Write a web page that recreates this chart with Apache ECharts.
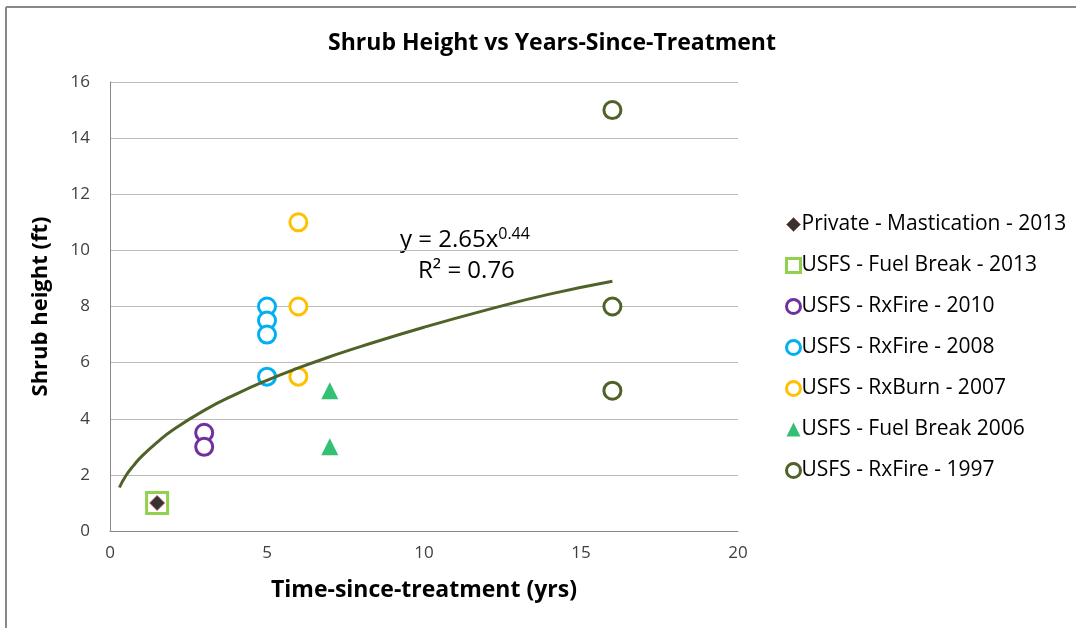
<!DOCTYPE html>
<html><head><meta charset="utf-8">
<script src="https://cdn.jsdelivr.net/npm/echarts@6/dist/echarts.min.js"></script>
<style>html,body{margin:0;padding:0;background:#fff}#c{width:1076px;height:628px}</style>
</head><body><div id="c"></div>
<script>
const seriesNames = ['Private - Mastication - 2013','USFS - Fuel Break - 2013','USFS - RxFire - 2010','USFS - RxFire - 2008','USFS - RxBurn - 2007','USFS - Fuel Break 2006','USFS - RxFire - 1997'];
const privateMast2013 = [[1.5, 1]];
const fuelBreak2013 = [[1.5, 1]];
const rxFire2010 = [[3, 3.5], [3, 3]];
const rxFire2008 = [[5, 8], [5, 7.5], [5, 7], [5, 5.5]];
const rxBurn2007 = [[6, 11], [6, 8], [6, 5.5]];
const fuelBreak2006 = [[7, 5], [7, 3]];
const rxFire1997 = [[16, 15], [16, 8], [16, 5]];
// trendline (power fit y = 2.65x^0.44)
const trendX = [0.3, 0.5, 0.75, 1, 1.5, 2, 3, 4, 5, 6, 7, 8, 10, 12, 14, 16];
const trendY = [1.55, 1.96, 2.33, 2.65, 3.16, 3.6, 4.3, 4.87, 5.37, 5.81, 6.21, 6.58, 7.26, 7.88, 8.44, 8.9];
const xTicks = [0, 5, 10, 15, 20];
const yTicks = [0, 2, 4, 6, 8, 10, 12, 14, 16];
const colors = ['#000', '#92D050', '#7030A0', '#00B0F0', '#FFC000', '#00B050', '#4F6228'];

const chart = echarts.init(document.getElementById('c'));
const font = "'Open Sans', 'Liberation Sans', sans-serif";
const hollow = (name, data, symbol, color, size) => ({
  name, type: 'scatter', data, symbol, symbolSize: size,
  itemStyle: { color: '#fff', borderColor: color, borderWidth: 3, opacity: 1 },
  z: 3
});
const legendData = seriesNames.map((n, i) => {
  if (i === 0) return { name: n, icon: 'diamond', itemStyle: { color: '#000', borderColor: '#C0504D', borderWidth: 1 } };
  if (i === 1) return { name: n, icon: 'rect', itemStyle: { color: '#fff', borderColor: colors[i], borderWidth: 3 } };
  if (i === 5) return { name: n, icon: 'triangle', itemStyle: { color: colors[i], borderWidth: 0 } };
  return { name: n, icon: 'circle', itemStyle: { color: '#fff', borderColor: colors[i], borderWidth: 3 } };
});
chart.setOption({
  animation: false,
  backgroundColor: '#fff',
  title: {
    text: 'Shrub Height vs Years-Since-Treatment',
    left: 547, top: 27, textAlign: 'center',
    textStyle: { fontFamily: font, fontSize: 23, fontWeight: 'bold', color: '#000' }
  },
  grid: { left: 110, right: 338, top: 82, bottom: 97, containLabel: false },
  xAxis: {
    type: 'value', min: 0, max: 20, interval: 5,
    name: 'Time-since-treatment (yrs)', nameLocation: 'middle', nameGap: 48,
    nameTextStyle: { fontFamily: font, fontSize: 23, fontWeight: 'bold', color: '#000' },
    axisLine: { show: true, onZero: false, lineStyle: { color: '#888', width: 1 } },
    axisTick: { show: false },
    splitLine: { show: false },
    axisLabel: { fontFamily: font, fontSize: 17, color: '#404040', margin: 14,
      formatter: v => xTicks.includes(v) ? String(v) : '' }
  },
  yAxis: {
    type: 'value', min: 0, max: 16, interval: 2,
    name: 'Shrub height (ft)', nameLocation: 'middle', nameGap: 58,
    nameTextStyle: { fontFamily: font, fontSize: 22, fontWeight: 'bold', color: '#000' },
    axisLine: { show: true, lineStyle: { color: '#888', width: 1 } },
    axisTick: { show: false },
    splitLine: { show: true, lineStyle: { color: '#bbb', width: 1 } },
    axisLabel: { fontFamily: font, fontSize: 17, color: '#404040', margin: 20,
      formatter: v => yTicks.includes(v) ? String(v) : '' }
  },
  legend: {
    data: legendData,
    orient: 'vertical', left: 780, top: 205,
    itemWidth: 14, itemHeight: 14, itemGap: 12, selectedMode: false,
    textStyle: { fontFamily: font, fontSize: 21, color: '#000', lineHeight: 29, padding: [0, 0, 0, -4] }
  },
  series: [
    { name: seriesNames[0], type: 'scatter', data: privateMast2013, symbol: 'diamond', symbolSize: 15,
      itemStyle: { color: '#000', borderColor: '#C0504D', borderWidth: 1 }, z: 5 },
    { name: seriesNames[1], type: 'scatter', data: fuelBreak2013, symbol: 'rect', symbolSize: 21,
      itemStyle: { color: '#fff', borderColor: '#92D050', borderWidth: 3, opacity: 1 }, z: 4 },
    hollow(seriesNames[2], rxFire2010, 'circle', colors[2], 17),
    hollow(seriesNames[3], rxFire2008, 'circle', colors[3], 17),
    hollow(seriesNames[4], rxBurn2007, 'circle', colors[4], 17),
    { name: seriesNames[5], type: 'scatter', data: fuelBreak2006, symbol: 'triangle', symbolSize: 17,
      itemStyle: { color: colors[5] }, z: 3 },
    hollow(seriesNames[6], rxFire1997, 'circle', colors[6], 17),
    { name: 'Power fit', type: 'line', data: trendX.map((x, i) => [x, trendY[i]]),
      smooth: true, showSymbol: false, symbol: 'none',
      lineStyle: { color: '#4F6228', width: 3 }, z: 6 }
  ],
  graphic: [
    { type: 'line', shape: { x1: 6, y1: 7, x2: 1076, y2: 7 }, style: { stroke: '#888', lineWidth: 2 } },
    { type: 'line', shape: { x1: 6, y1: 7, x2: 6, y2: 628 }, style: { stroke: '#888', lineWidth: 2 } },
    { type: 'text', left: 400, top: 226,
      style: { rich: { a: { fontFamily: font, fontSize: 24, color: '#000' }, s: { fontFamily: font, fontSize: 16, color: '#000', verticalAlign: 'top', padding: [0, 0, 12, 0] } },
        text: '{a|y = 2.65x}{s|0.44}' } },
    { type: 'text', left: 418, top: 259,
      style: { text: 'R² = 0.76', fontFamily: font, fontSize: 24, fill: '#000' } }
  ]
});
</script></body></html>
